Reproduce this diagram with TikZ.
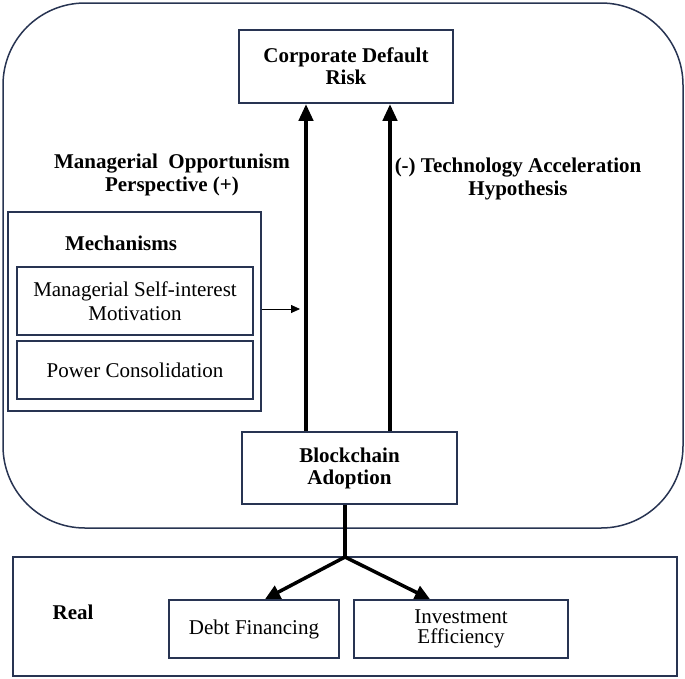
\documentclass[tikz,border=0pt]{standalone}
\usepackage{fontspec}
\setmainfont{Liberation Serif}
\usetikzlibrary{arrows.meta}
\definecolor{navy}{RGB}{40,52,82}
\tikzset{
  box/.style={draw=navy, line width=1.8pt, fill=white, rectangle, inner sep=0pt, align=center,
    font=\fontsize{21}{24}\selectfont},
  boldbox/.style={box, font=\fontsize{21}{22}\selectfont\bfseries},
  lbl/.style={inner sep=0pt, align=center, font=\fontsize{21}{23}\selectfont\bfseries},
  bigarrow/.style={line width=4.5pt, -{Triangle[length=17pt,width=14pt]}},
  smallarrow/.style={line width=0.8pt, -{Triangle[length=9pt,width=8pt]}},
}
\begin{document}
\begin{tikzpicture}[x=1pt,y=-1pt]
\useasboundingbox (0,0) rectangle (685,678);
% outer frames
\draw[navy, line width=1.5pt, rounded corners=82pt] (3,3) rectangle (683,528);
\node[box, minimum width=664pt, minimum height=119pt] (bottom) at (345,616.5) {};
% main boxes
\node[boldbox, minimum width=214pt, minimum height=73pt] (cdr) at (346,66.5) {Corporate Default\\Risk};
\node[boldbox, minimum width=215pt, minimum height=72pt] (blk) at (349.5,468) {Blockchain\\Adoption};
% mechanisms
\node[box, minimum width=253pt, minimum height=199pt] (mech) at (134.5,311.5) {};
\node[lbl] (mechlbl) at (121,243) {Mechanisms};
\node[box, minimum width=236pt, minimum height=68pt] (msm) at (135,301) {Managerial Self-interest\\Motivation};
\node[box, minimum width=236pt, minimum height=58pt] (pc) at (135,370) {Power Consolidation};
% labels
\node[lbl] (mop) at (172,174.5) {Managerial\ \ Opportunism\\Perspective (+)};
\node[lbl] (tah) at (518,178.5) {(-) Technology Acceleration\\Hypothesis};
\node[lbl] (real) at (73,612) {Real};
% bottom boxes
\node[box, minimum width=170pt, minimum height=58pt] (debt) at (254,629) {Debt Financing};
\node[box, minimum width=214pt, minimum height=58pt, font=\fontsize{21}{20}\selectfont] (inv) at (461,629) {Investment\\Efficiency};
% arrows
\coordinate (l1) at (306,0);
\coordinate (l2) at (390,0);
\draw[bigarrow] (l1 |- blk.north) -- (l1 |- cdr.south);
\draw[bigarrow] (l2 |- blk.north) -- (l2 |- cdr.south);
\coordinate (sa) at (300,309);
\draw[smallarrow] (sa -| mech.east) -- (sa);
\coordinate (j) at (345,557);
\coordinate (dt) at (265,0);
\coordinate (it) at (430,0);
\draw[line width=4.5pt] (j |- blk.south) -- (j);
\draw[line width=3.5pt, -{Triangle[length=15pt,width=14pt]}, line cap=round] (j) -- (dt |- debt.north);
\draw[line width=3.5pt, -{Triangle[length=15pt,width=14pt]}, line cap=round] (j) -- (it |- inv.north);
\end{tikzpicture}
\end{document}
